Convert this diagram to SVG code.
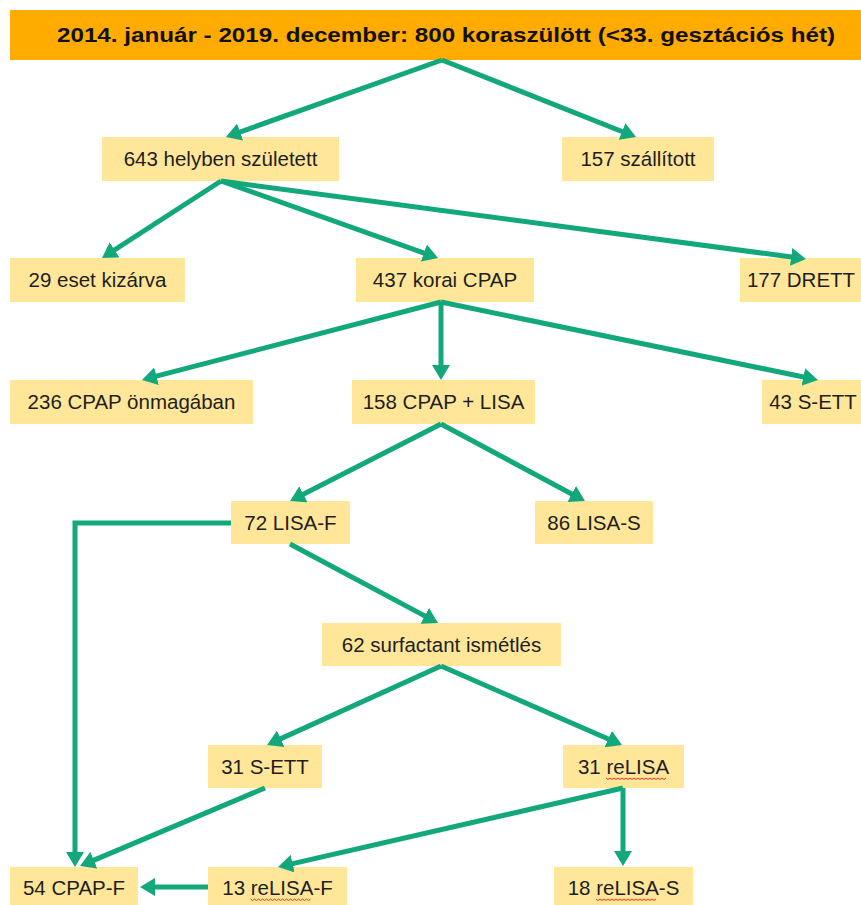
<svg xmlns="http://www.w3.org/2000/svg" width="861" height="905" viewBox="0 0 861 905">
  <style>
    .hdr { fill: #FFAB00; }
    .box { fill: #FFE699; }
    .t { font-family: "Liberation Sans", Arial, sans-serif; font-size: 20.5px; fill: #1e1e1e; text-anchor: middle; }
    .th { font-family: "Liberation Sans", Arial, sans-serif; font-size: 20.5px; font-weight: bold; fill: #111; text-anchor: middle; }
    .c { fill: none; stroke: #12A87B; stroke-width: 5; marker-end: url(#ah); }
    .c2 { fill: none; stroke: #12A87B; stroke-width: 5; stroke-linejoin: miter; marker-end: url(#ah); }
    .wave { fill: none; stroke: #E8322B; stroke-width: 1; }
  </style>
  <defs>
    <marker id="ah" markerUnits="userSpaceOnUse" markerWidth="16" markerHeight="18" refX="10" refY="9" orient="auto">
      <path d="M0,0 L15,9 L0,18 z" fill="#12A87B"/>
    </marker>
    <path id="wave" d="M0,0 l2,1.5 l2,-1.5 l2,1.5 l2,-1.5 l2,1.5 l2,-1.5 l2,1.5 l2,-1.5 l2,1.5 l2,-1.5 l2,1.5 l2,-1.5 l2,1.5 l2,-1.5 l2,1.5 l2,-1.5 l2,1.5 l2,-1.5 l2,1.5 l2,-1.5 l2,1.5 l2,-1.5 l2,1.5 l2,-1.5 l2,1.5 l2,-1.5 l2,1.5 l2,-1.5 l2,1.5 l2,-1.5"/>
  </defs>

  <g id="header">
    <rect class="hdr" x="10" y="10" width="851" height="50"/>
    <text class="th" x="446" y="42" textLength="778" lengthAdjust="spacingAndGlyphs">2014. január - 2019. december: 800 koraszülött (&lt;33. gesztációs hét)</text>
  </g>
  <g id="n643">
    <rect class="box" x="102" y="137" width="237" height="44"/>
    <text class="t" x="220.5" y="166">643 helyben született</text>
  </g>
  <g id="n157">
    <rect class="box" x="562" y="137" width="152" height="44"/>
    <text class="t" x="638" y="166">157 szállított</text>
  </g>
  <g id="n29">
    <rect class="box" x="10" y="258" width="175" height="44"/>
    <text class="t" x="97.5" y="287">29 eset kizárva</text>
  </g>
  <g id="n437">
    <rect class="box" x="356" y="258" width="178" height="44"/>
    <text class="t" x="445" y="287">437 korai CPAP</text>
  </g>
  <g id="n177">
    <rect class="box" x="740" y="258" width="121" height="44"/>
    <text class="t" x="801" y="287">177 DRETT</text>
  </g>
  <g id="n236">
    <rect class="box" x="10" y="380" width="243" height="44"/>
    <text class="t" x="131.5" y="409">236 CPAP önmagában</text>
  </g>
  <g id="n158">
    <rect class="box" x="352" y="380" width="183" height="44"/>
    <text class="t" x="443.5" y="409">158 CPAP + LISA</text>
  </g>
  <g id="n43">
    <rect class="box" x="762" y="380" width="99" height="44"/>
    <text class="t" x="813" y="409">43 S-ETT</text>
  </g>
  <g id="n72">
    <rect class="box" x="231" y="501" width="119" height="43"/>
    <text class="t" x="290.5" y="530">72 LISA-F</text>
  </g>
  <g id="n86">
    <rect class="box" x="535" y="501" width="118" height="43"/>
    <text class="t" x="594" y="530">86 LISA-S</text>
  </g>
  <g id="n62">
    <rect class="box" x="322" y="623" width="239" height="43"/>
    <text class="t" x="441.5" y="652">62 surfactant ismétlés</text>
  </g>
  <g id="n31s">
    <rect class="box" x="208" y="745" width="114" height="43"/>
    <text class="t" x="265" y="774">31 S-ETT</text>
  </g>
  <g id="n31r">
    <rect class="box" x="563" y="745" width="121" height="43"/>
    <text class="t" x="623.5" y="774">31 reLISA</text>
    <use href="#wave" x="606" y="778" class="wave"/>
  </g>
  <g id="n54">
    <rect class="box" x="10" y="867" width="128" height="43"/>
    <text class="t" x="74" y="895">54 CPAP-F</text>
  </g>
  <g id="n13">
    <rect class="box" x="208" y="867" width="139" height="43"/>
    <text class="t" x="277.5" y="895">13 reLISA-F</text>
    <use href="#wave" x="250.5" y="899" class="wave"/>
  </g>
  <g id="n18">
    <rect class="box" x="554" y="867" width="139" height="43"/>
    <text class="t" x="623.5" y="895">18 reLISA-S</text>
    <use href="#wave" x="596" y="899" class="wave"/>
  </g>

  <g id="connectors">
    <path class="c" d="M442,60 L230.7,135.3"/>
    <path class="c" d="M442,60 L631.4,135.2"/>
    <path class="c" d="M221,181 L106.2,255.3"/>
    <path class="c" d="M221,181 L433.3,256.3"/>
    <path class="c" d="M221,181 L801,258.3"/>
    <path class="c" d="M441,302 L146.8,378.7"/>
    <path class="c" d="M441,302 L441,375"/>
    <path class="c" d="M441,302 L813.1,379"/>
    <path class="c" d="M441,424 L294.5,498.8"/>
    <path class="c" d="M441,424 L580.6,498.7"/>
    <path class="c2" d="M231,523 L75,523 L75,862"/>
    <path class="c" d="M290,544 L433.6,620.6"/>
    <path class="c" d="M441,666 L271.6,742.9"/>
    <path class="c" d="M441,666 L617.4,743"/>
    <path class="c" d="M265,788 L84.6,864.1"/>
    <path class="c" d="M623,788 L282.9,865.9"/>
    <path class="c" d="M623,788 L623,861"/>
    <path class="c" d="M208,887 L145,887"/>
  </g>
</svg>
